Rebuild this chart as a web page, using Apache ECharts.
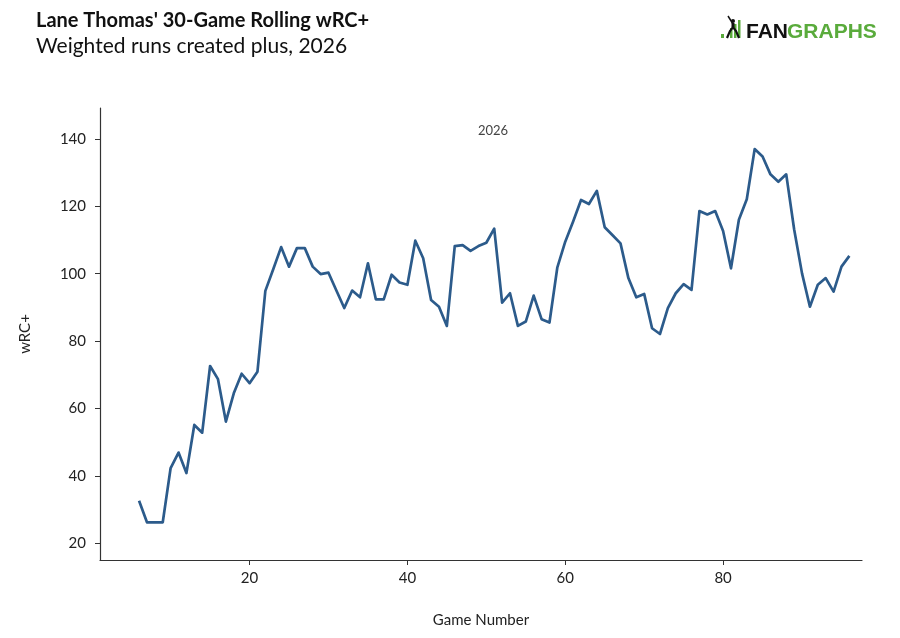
<!DOCTYPE html>
<html>
<head>
<meta charset="utf-8">
<script src="https://cdn.jsdelivr.net/npm/echarts@6/dist/echarts.min.js"></script>
<style>
html,body{margin:0;padding:0;background:#fff;}
#chart{width:900px;height:638px;}
</style>
</head>
<body>
<div id="chart"></div>
<script>
const games = [6,7,8,9,10,11,12,13,14,15,16,17,18,19,20,21,22,23,24,25,26,27,28,29,30,31,32,33,34,35,36,37,38,39,40,41,42,43,44,45,46,47,48,49,50,51,52,53,54,55,56,57,58,59,60,61,62,63,64,65,66,67,68,69,70,71,72,73,74,75,76,77,78,79,80,81,82,83,84,85,86,87,88,89,90,91,92,93,94,95,96];
const wrcPlus = [32.6,26.2,26.2,26.2,42.3,46.9,40.8,55.1,52.8,72.6,68.7,56.1,64.5,70.3,67.5,70.9,94.9,101.3,107.9,102.1,107.6,107.6,102.1,99.9,100.3,95.0,89.8,95.0,93.0,103.1,92.4,92.4,99.7,97.4,96.7,109.8,104.6,92.2,90.2,84.5,108.2,108.5,106.8,108.2,109.2,113.4,91.4,94.2,84.5,85.8,93.5,86.5,85.5,101.9,109.5,115.5,121.9,120.7,124.6,113.8,111.4,109.0,98.7,93.0,94.0,83.8,82.1,89.8,94.2,96.9,95.2,118.6,117.6,118.6,112.7,101.6,116.0,122.1,137.0,134.8,129.5,127.3,129.5,113.2,100.1,90.2,96.7,98.7,94.7,102.1,105.3];
const xTicks = [20,40,60,80];
const yTicks = [20,40,60,80,100,120,140];

const chart = echarts.init(document.getElementById('chart'));
const green = '#5aab3c';
const font = 'Lato, "Noto Sans", sans-serif';
chart.setOption({
  animation: false,
  backgroundColor: '#fff',
  title: [
    {text: "Lane Thomas' 30-Game Rolling wRC+", left: 31, top: 6,
     textStyle: {fontFamily: font, fontSize: 20, fontWeight: 'bold', color: '#111'}},
    {text: 'Weighted runs created plus, 2026', left: 31, top: 31,
     textStyle: {fontFamily: font, fontSize: 21, fontWeight: 'normal', color: '#111'}},
    {text: '2026', left: 473, top: 119,
     textStyle: {fontFamily: font, fontSize: 13, fontWeight: 'normal', color: '#444'}}
  ],
  grid: {left: 100, right: 38, top: 108, bottom: 78, containLabel: false},
  xAxis: {
    type: 'value', min: 1.05, max: 97.6,
    name: 'Game Number', nameLocation: 'middle', nameGap: 53,
    nameTextStyle: {fontFamily: font, fontSize: 15, color: '#222'},
    axisLine: {show: true, onZero: false, lineStyle: {color: '#333', width: 1.2}},
    axisTick: {show: true, length: 5, lineStyle: {color: '#333'}, customValues: xTicks},
    axisLabel: {fontFamily: font, fontSize: 15, color: '#222', margin: 11, customValues: xTicks},
    splitLine: {show: false}
  },
  yAxis: {
    type: 'value', min: 15, max: 149.2,
    name: 'wRC+', nameLocation: 'middle', nameGap: 67, nameRotate: 90,
    nameTextStyle: {fontFamily: font, fontSize: 15, color: '#222'},
    axisLine: {show: true, onZero: false, lineStyle: {color: '#333', width: 1.2}},
    axisTick: {show: true, length: 5, lineStyle: {color: '#333'}, customValues: yTicks},
    axisLabel: {fontFamily: font, fontSize: 15, color: '#222', margin: 14, customValues: yTicks},
    splitLine: {show: false}
  },
  series: [{
    type: 'line', name: '2026',
    data: games.map((g, i) => [g, wrcPlus[i]]),
    showSymbol: false, symbol: 'none',
    lineStyle: {color: '#2c5b8b', width: 2.7, join: 'round'}
  }],
  graphic: [
    {type: 'rect', shape: {x: 721, y: 34, width: 3, height: 4}, style: {fill: green}},
    {type: 'rect', shape: {x: 730, y: 28, width: 2.5, height: 10}, style: {fill: green}},
    {type: 'rect', shape: {x: 734, y: 24, width: 2.5, height: 14}, style: {fill: green}},
    {type: 'rect', shape: {x: 738, y: 20, width: 2.5, height: 18}, style: {fill: green}},
    {type: 'polyline', shape: {points: [[727,38],[730,31],[733,27],[736,31],[739,38]]},
     style: {stroke: '#111', lineWidth: 2.2, fill: null}},
    {type: 'line', shape: {x1: 733, y1: 27, x2: 733, y2: 23}, style: {stroke: '#111', lineWidth: 3}},
    {type: 'circle', shape: {cx: 733, cy: 21, r: 2}, style: {fill: '#111'}},
    {type: 'line', shape: {x1: 733, y1: 24, x2: 728, y2: 16}, style: {stroke: '#111', lineWidth: 1.5}},
    {type: 'text', x: 746, y: 22, style: {text: 'FAN', fill: '#111', font: 'bold 21px "Liberation Sans", Arial, sans-serif', textVerticalAlign: 'top'}},
    {type: 'text', x: 787, y: 22, style: {text: 'GRAPHS', fill: green, font: 'bold 21px "Liberation Sans", Arial, sans-serif', textVerticalAlign: 'top'}}
  ]
});
</script>
</body>
</html>
